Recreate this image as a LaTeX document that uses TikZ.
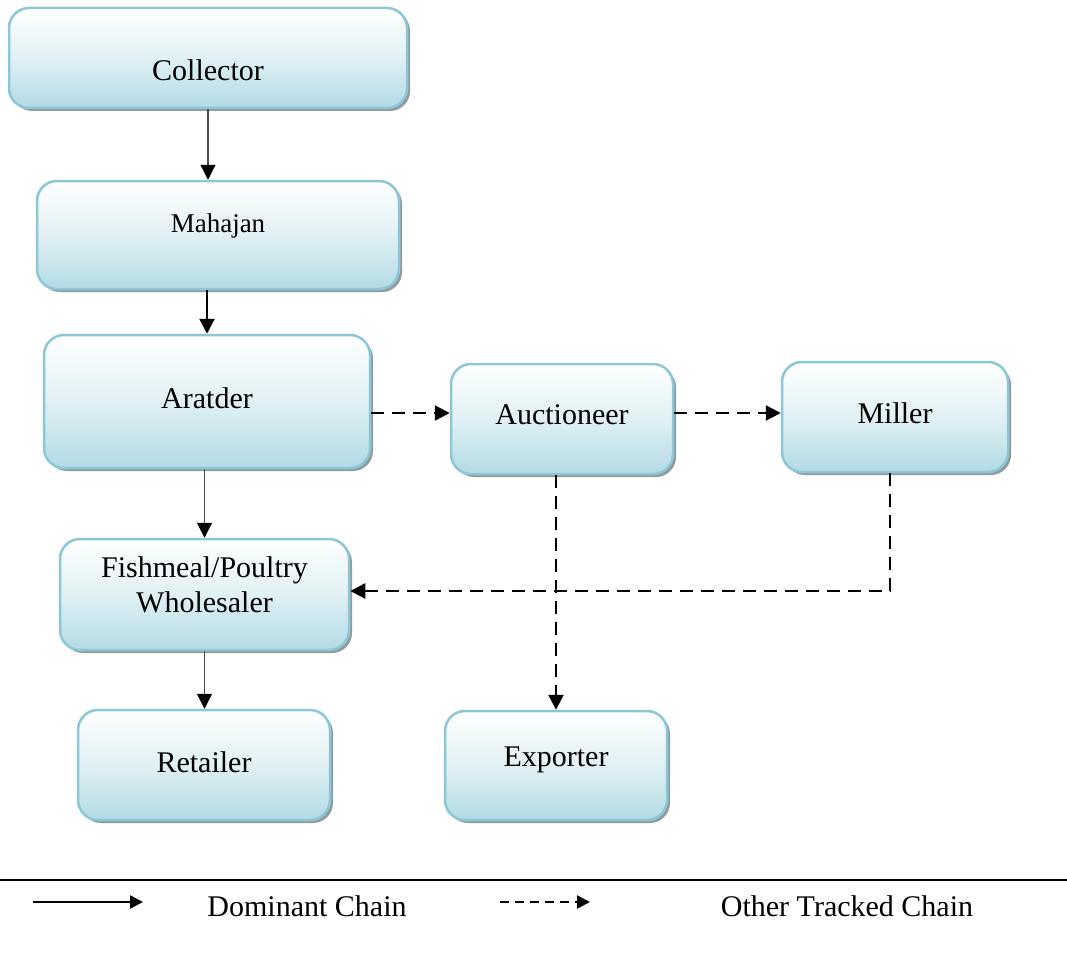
\documentclass[tikz,border=0pt]{standalone}
\usepackage{fontspec}
\setmainfont{Liberation Serif}
\usetikzlibrary{arrows.meta,shadows}
\definecolor{boxedge}{RGB}{140,199,216}
\definecolor{boxlow}{RGB}{178,218,228}
\definecolor{boxshadow}{RGB}{145,155,158}
\tikzset{
  x=1pt, y=-1pt,
  stagebox/.style={
    draw=boxedge, line width=2.5pt, rounded corners=20pt,
    top color=white, bottom color=boxlow, middle color=boxlow!40!white,
    drop shadow={shadow xshift=3pt, shadow yshift=-3pt, fill=boxshadow, opacity=1},
    inner sep=0pt},
  stagetext/.style={align=center, font=\fontsize{30}{35}\selectfont, inner sep=0pt},
  mainlink/.style={draw=black!70, line width=1.2pt,
    -{Triangle[length=15pt,width=15pt,color=black]}},
  strongLink/.style={draw=black, line width=2.2pt,
    -{Triangle[length=15pt,width=15pt]}},
  otherlink/.style={draw=black, line width=2.5pt, dash pattern=on 13pt off 8pt,
    -{Triangle[length=15pt,width=15pt]}},
  legendtext/.style={font=\fontsize{30}{36}\selectfont, inner sep=0pt},
}
\begin{document}
\begin{tikzpicture}
\useasboundingbox (0,0) rectangle (1067,955);

% stages of the chain (boxes)
\node[stagebox, minimum width=398pt, minimum height=100pt] (collector) at (208,58) {};
\node[stagebox, minimum width=362pt, minimum height=108pt] (mahajan) at (218,235) {};
\node[stagebox, minimum width=326pt, minimum height=133pt] (aratder) at (207,401.5) {};
\node[stagebox, minimum width=222pt, minimum height=110pt] (auctioneer) at (562,419) {};
\node[stagebox, minimum width=226pt, minimum height=110pt] (miller) at (895,417) {};
\node[stagebox, minimum width=289pt, minimum height=111pt] (fishmeal) at (204.5,594.5) {};
\node[stagebox, minimum width=252pt, minimum height=110pt] (retailer) at (204,765) {};
\node[stagebox, minimum width=222pt, minimum height=109pt] (exporter) at (556,765.5) {};

% stage names
\node[stagetext, yshift=-12pt] (collectorName) at (collector) {Collector};
\node[stagetext, yshift=9pt, font=\fontsize{27}{32}\selectfont] (mahajanName) at (mahajan) {Mahajan};
\node[stagetext, yshift=3.5pt] (aratderName) at (aratder) {Aratder};
\node[stagetext, yshift=4pt] (auctioneerName) at (auctioneer) {Auctioneer};
\node[stagetext, yshift=4pt] (millerName) at (miller) {Miller};
\node[stagetext, yshift=10pt] (fishmealName) at (fishmeal) {Fishmeal/Poultry\\Wholesaler};
\node[stagetext, yshift=3pt] (retailerName) at (retailer) {Retailer};
\node[stagetext, yshift=5.5pt] (exporterName) at (exporter) {Exporter};

% dominant chain
\draw[mainlink] (collector.south) -- (collector.south |- mahajan.north);
\draw[strongLink] (aratder.north |- mahajan.south) -- (aratder.north);
\draw[mainlink] (fishmeal.north |- aratder.south) -- (fishmeal.north);
\draw[mainlink] (fishmeal.south) -- (fishmeal.south |- retailer.north);

% other tracked chains
\coordinate (aucIn) at ([yshift=6pt]auctioneer.west);
\coordinate (aucOut) at ([yshift=6pt]auctioneer.east);
\draw[otherlink] (aucIn -| aratder.east) -- (aucIn);
\draw[otherlink] (aucOut) -- (aucOut -| miller.west);
\draw[otherlink] (exporter.north |- auctioneer.south) -- (exporter.north);
\coordinate (millOut) at ([xshift=-5pt]miller.south);
\coordinate (fishIn) at ([yshift=3.5pt]fishmeal.east);
\draw[otherlink] (millOut) |- (fishIn);

% legend
\coordinate (ruleL) at (0,880);
\coordinate (ruleR) at (1067,880);
\draw[line width=2.5pt] (ruleL) -- (ruleR);
\coordinate (solidA) at (33,902);
\coordinate (solidB) at (143,902);
\draw[line width=2.5pt, -{Triangle[length=13pt,width=13pt]}] (solidA) -- (solidB);
\node[legendtext] (domlabel) at (307,906) {Dominant Chain};
\coordinate (dashA) at (500,902);
\coordinate (dashB) at (590,902);
\draw[line width=2.5pt, dash pattern=on 9pt off 6pt, -{Triangle[length=13pt,width=13pt]}] (dashA) -- (dashB);
\node[legendtext] (otherlabel) at (847,906) {Other Tracked Chain};
\end{tikzpicture}
\end{document}
